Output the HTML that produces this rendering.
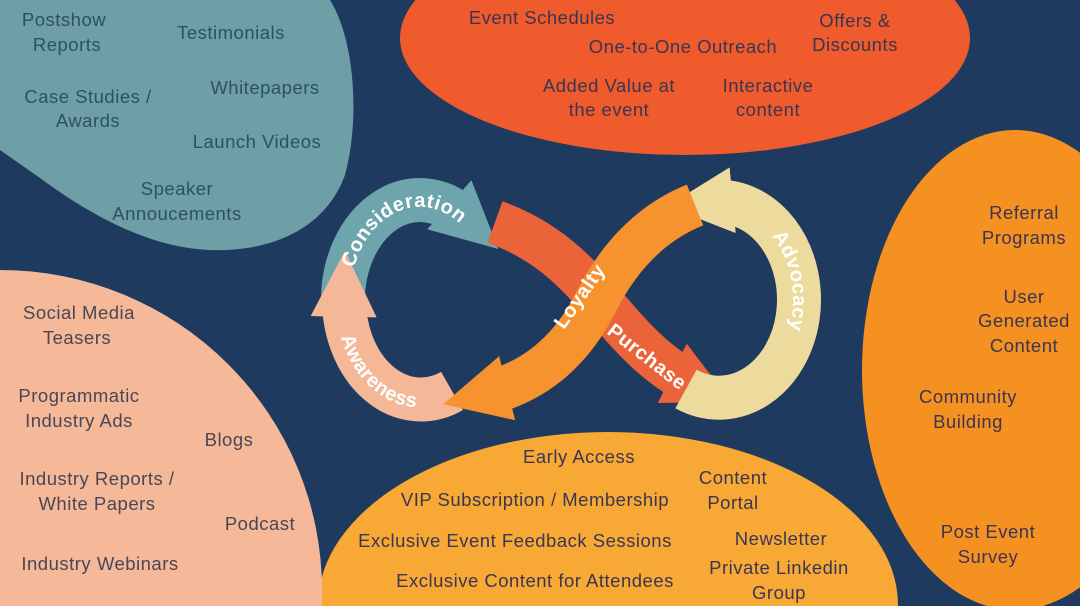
<!DOCTYPE html>
<html><head><meta charset="utf-8"><style>
html,body{margin:0;padding:0;background:#1f3a5f;overflow:hidden;width:1080px;height:606px}
svg{display:block}
text{font-family:"Liberation Sans",sans-serif;}
.t{font-size:18.5px;text-anchor:middle;letter-spacing:0.5px}
.w{font-size:20px;font-weight:bold;fill:#fff;letter-spacing:0.5px}
</style></head><body>
<svg width="1080" height="606" viewBox="0 0 1080 606" xmlns="http://www.w3.org/2000/svg">
<defs>
<marker id="mT" viewBox="0 0 10 10" refX="3" refY="5" markerWidth="1.5" markerHeight="1.5" orient="auto"><path d="M0,0 L10,5 L0,10 z" fill="#6ea4ab"/></marker>
<marker id="mR" viewBox="0 0 10 10" refX="3" refY="5" markerWidth="1.5" markerHeight="1.5" orient="auto"><path d="M0,0 L10,5 L0,10 z" fill="#ea6339"/></marker>
<marker id="mO" viewBox="0 0 10 10" refX="3" refY="5" markerWidth="1.5" markerHeight="1.5" orient="auto"><path d="M0,0 L10,5 L0,10 z" fill="#f7932f"/></marker>
<marker id="mY" viewBox="0 0 10 10" refX="3" refY="5" markerWidth="1.5" markerHeight="1.5" orient="auto"><path d="M0,0 L10,5 L0,10 z" fill="#ecdb9c"/></marker>
<marker id="mP" viewBox="0 0 10 10" refX="3" refY="5" markerWidth="1.5" markerHeight="1.5" orient="auto"><path d="M0,0 L10,5 L0,10 z" fill="#f4b798"/></marker>
<path id="pTeal" d="M 354 268 A 70 93 0 0 1 465 229"/>
<path id="pPeach" d="M 341 337 A 84 107 0 0 0 462 393"/>
<path id="pAdv" d="M 772 236 A 73 91 0 0 1 783 346"/>
</defs>
<path d="M0,0 L330,0 C355,40 360,120 345,175 C325,230 270,252 210,250 C150,248 90,215 40,178 L0,150 Z" fill="#6e9fa6"/>
<ellipse cx="685" cy="38" rx="285" ry="117" fill="#ef5b2c"/>
<ellipse cx="1015" cy="370" rx="153" ry="240" fill="#f59121"/>
<ellipse cx="608" cy="605" rx="290" ry="173" fill="#f8a935"/>
<ellipse cx="0" cy="590" rx="322" ry="320" fill="#f5b999"/>

<path d="M 343 300 A 77 100 0 0 1 464 218" fill="none" stroke="#6ea4ab" stroke-width="44" marker-end="url(#mT)"/>
<path d="M 495 222 C 545 240, 575 270, 600 300 C 625 330, 655 365, 690 382" fill="none" stroke="#ea6339" stroke-width="44" marker-end="url(#mR)"/>
<path d="M 686 389 A 80 98 0 1 0 713 202" fill="none" stroke="#ecdb9c" stroke-width="44" marker-end="url(#mY)"/>
<path d="M 452 391 A 77 100 0 0 1 344 297" fill="none" stroke="#f4b798" stroke-width="44" marker-end="url(#mP)"/>
<path d="M 695 205 C 645 225, 615 265, 597 300 C 575 345, 540 380, 488 393" fill="none" stroke="#f7932f" stroke-width="44" marker-end="url(#mO)"/>

<text class="w"><textPath href="#pTeal">Consideration</textPath></text>
<text class="w"><textPath href="#pPeach">Awareness</textPath></text>
<text class="w"><textPath href="#pAdv">Advocacy</textPath></text>
<text class="w" transform="translate(585,300) rotate(-55)" text-anchor="middle">Loyalty</text>
<text class="w" transform="translate(643,362) rotate(38)" text-anchor="middle">Purchase</text>

<g fill="#2d5068">
<text x="64" y="26" class="t">Postshow</text><text x="67" y="51" class="t">Reports</text>
<text x="231" y="39" class="t">Testimonials</text>
<text x="265" y="94" class="t">Whitepapers</text>
<text x="88" y="103" class="t">Case Studies /</text><text x="88" y="127" class="t">Awards</text>
<text x="257" y="148" class="t">Launch Videos</text>
<text x="177" y="195" class="t">Speaker</text><text x="177" y="220" class="t">Annoucements</text>
</g>
<g fill="#3b3552">
<text x="542" y="24" class="t">Event Schedules</text>
<text x="855" y="27" class="t">Offers &amp;</text><text x="855" y="51" class="t">Discounts</text>
<text x="683" y="53" class="t">One-to-One Outreach</text>
<text x="609" y="92" class="t">Added Value at</text><text x="609" y="116" class="t">the event</text>
<text x="768" y="92" class="t">Interactive</text><text x="768" y="116" class="t">content</text>
</g>
<g fill="#3b3552">
<text x="1024" y="219" class="t">Referral</text><text x="1024" y="244" class="t">Programs</text>
<text x="1024" y="303" class="t">User</text><text x="1024" y="327" class="t">Generated</text><text x="1024" y="352" class="t">Content</text>
<text x="968" y="403" class="t">Community</text><text x="968" y="428" class="t">Building</text>
<text x="988" y="538" class="t">Post Event</text><text x="988" y="563" class="t">Survey</text>
</g>
<g fill="#3b3552">
<text x="579" y="463" class="t">Early Access</text>
<text x="733" y="484" class="t">Content</text><text x="733" y="509" class="t">Portal</text>
<text x="535" y="506" class="t">VIP Subscription / Membership</text>
<text x="515" y="547" class="t">Exclusive Event Feedback Sessions</text>
<text x="781" y="545" class="t">Newsletter</text>
<text x="535" y="587" class="t">Exclusive Content for Attendees</text>
<text x="779" y="574" class="t">Private Linkedin</text><text x="779" y="599" class="t">Group</text>
</g>
<g fill="#4a4654">
<text x="79" y="319" class="t">Social Media</text><text x="77" y="344" class="t">Teasers</text>
<text x="79" y="402" class="t">Programmatic</text><text x="79" y="427" class="t">Industry Ads</text>
<text x="229" y="446" class="t">Blogs</text>
<text x="97" y="485" class="t">Industry Reports /</text><text x="97" y="510" class="t">White Papers</text>
<text x="260" y="530" class="t">Podcast</text>
<text x="100" y="570" class="t">Industry Webinars</text>
</g>
</svg>
</body></html>
